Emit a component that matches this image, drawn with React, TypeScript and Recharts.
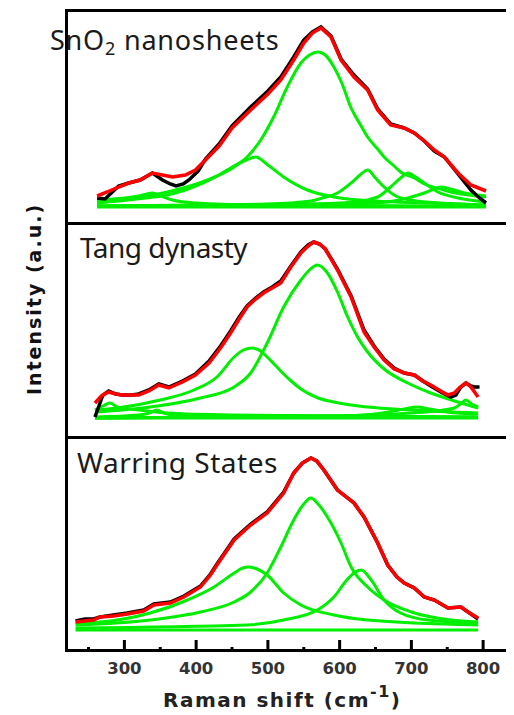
import { LineChart, Line, XAxis, YAxis } from 'recharts';

type Pt = [number, number];

// [Raman shift (cm-1), intensity (a.u.)]

// SnO2 nanosheets
const nanoExp: Pt[] = [[262, 25], [273, 24], [292, 37], [306, 40], [322, 43], [339, 50], [353, 43], [364, 39], [372, 37], [382, 39], [390, 43], [403, 52], [413, 64], [432, 79], [450, 97], [476, 116], [500, 132], [518, 146], [536, 166], [550, 183], [562, 191], [574, 196], [588, 187], [602, 164], [620, 148], [639, 134], [653, 114], [671, 99], [690, 95], [704, 90], [718, 82], [732, 72], [746, 66], [765, 49], [783, 33], [795, 25], [804, 20]];
const nanoFit: Pt[] = [[262, 27], [276, 31], [292, 36], [306, 40], [322, 43], [339, 50], [353, 48], [367, 46], [385, 48], [399, 53], [413, 63], [432, 77], [450, 95], [476, 113], [500, 129], [518, 143], [536, 163], [550, 180], [562, 190], [574, 195], [588, 186], [602, 163], [620, 146], [639, 133], [653, 113], [671, 98], [690, 95], [704, 90], [718, 82], [732, 73], [746, 66], [765, 50], [783, 38], [804, 32]];
const nanoPeakA: Pt[] = [[262, 22], [300, 24], [360, 31], [416, 43], [453, 56], [471, 66], [490, 83], [508, 106], [527, 136], [546, 160], [558, 168], [570, 171], [580, 168], [592, 156], [603, 140], [616, 115], [630, 97], [639, 86], [653, 74], [662, 66], [676, 57], [685, 51], [704, 45], [718, 39], [741, 34], [755, 31], [780, 28], [804, 26]];
const nanoPeakB: Pt[] = [[262, 20], [330, 25], [360, 28], [385, 33], [410, 40], [432, 48], [455, 58], [470, 63], [483, 66], [500, 58], [522, 46], [555, 33], [592, 26], [650, 22], [720, 20], [804, 18]];
const nanoPeakC: Pt[] = [[262, 17], [500, 19], [560, 22], [576, 25], [597, 30], [616, 40], [630, 49], [639, 53], [650, 45], [662, 36], [676, 28], [699, 23], [740, 20], [804, 18]];
const nanoPeakD: Pt[] = [[262, 17], [560, 19], [620, 21], [653, 26], [671, 36], [685, 45], [695, 50], [706, 46], [718, 40], [737, 31], [765, 25], [804, 21]];
const nanoPeakE: Pt[] = [[262, 17], [650, 20], [695, 25], [718, 30], [732, 34], [741, 36], [755, 34], [774, 30], [804, 27]];
const nanoPeakF: Pt[] = [[262, 22], [285, 24], [301, 25], [320, 27], [339, 30], [355, 26], [367, 23], [400, 20], [480, 18], [804, 17]];
const nanoBase: Pt[] = [[262, 16], [804, 16]];

// Tang dynasty
const tangExp: Pt[] = [[259, 20], [265, 32], [270, 42], [278, 46], [288, 43], [297, 42], [310, 42], [320, 43], [334, 47], [348, 53], [362, 50], [381, 56], [399, 63], [418, 76], [435, 92], [448, 106], [460, 120], [471, 131], [483, 139], [494, 145], [506, 150], [518, 156], [532, 171], [546, 185], [556, 192], [564, 195], [572, 193], [580, 188], [597, 168], [616, 141], [634, 107], [648, 91], [662, 78], [676, 69], [690, 64], [704, 62], [716, 56], [727, 51], [741, 45], [755, 40], [762, 42], [768, 49], [776, 54], [783, 51], [788, 50], [795, 50]];
const tangFit: Pt[] = [[259, 34], [268, 41], [278, 45], [288, 43], [297, 42], [310, 42], [320, 42], [334, 46], [348, 52], [362, 49], [381, 55], [399, 62], [418, 74], [435, 90], [448, 104], [460, 118], [471, 130], [483, 138], [494, 144], [506, 149], [518, 154], [532, 170], [546, 184], [556, 191], [564, 195], [572, 193], [580, 188], [597, 167], [616, 140], [634, 105], [648, 90], [662, 77], [676, 68], [690, 64], [704, 62], [716, 56], [727, 52], [741, 46], [751, 42], [760, 44], [768, 50], [776, 54], [783, 50], [793, 40]];
const tangPeakA: Pt[] = [[259, 25], [336, 30], [406, 39], [453, 50], [476, 64], [499, 94], [522, 130], [546, 157], [558, 167], [569, 172], [582, 165], [597, 145], [610, 122], [625, 100], [639, 85], [662, 68], [695, 54], [727, 44], [765, 35], [793, 29]];
const tangPeakB: Pt[] = [[259, 27], [290, 29], [350, 37], [397, 47], [429, 60], [453, 80], [466, 87], [478, 89], [490, 86], [499, 80], [510, 72], [522, 63], [534, 55], [546, 48], [570, 39], [592, 35], [639, 30], [700, 27], [793, 24]];
const tangPeakC: Pt[] = [[259, 27], [270, 31], [280, 34], [290, 30], [297, 29], [320, 27], [360, 24], [450, 22], [793, 20]];
const tangPeakD: Pt[] = [[259, 20], [320, 22], [335, 24], [345, 27], [355, 24], [370, 22], [450, 21], [793, 20]];
const tangPeakE: Pt[] = [[259, 19], [600, 21], [700, 24], [745, 27], [760, 29], [770, 34], [776, 37], [784, 33], [793, 30]];
const tangPeakF: Pt[] = [[259, 19], [600, 21], [660, 24], [690, 28], [708, 30], [725, 28], [750, 25], [793, 23]];
const tangBase: Pt[] = [[259, 19], [793, 19]];

// Warring States
const warExp: Pt[] = [[232, 29], [245, 31], [257, 31], [266, 33], [285, 35], [304, 37], [327, 40], [341, 46], [364, 48], [383, 54], [406, 64], [420, 76], [429, 86], [453, 111], [476, 126], [499, 138], [522, 158], [536, 177], [548, 187], [560, 192], [568, 189], [578, 180], [597, 160], [620, 147], [634, 133], [653, 107], [667, 85], [680, 73], [690, 67], [704, 62], [718, 53], [732, 50], [751, 42], [769, 43], [779, 38], [793, 31]];
const warFit: Pt[] = [[232, 28], [257, 30], [266, 33], [285, 34], [304, 36], [327, 39], [341, 45], [364, 47], [383, 53], [406, 63], [420, 75], [429, 85], [453, 110], [476, 125], [499, 137], [522, 157], [536, 177], [548, 187], [560, 192], [568, 189], [578, 180], [597, 160], [620, 147], [634, 133], [653, 107], [667, 85], [680, 73], [690, 67], [704, 62], [718, 53], [732, 50], [751, 42], [769, 43], [779, 38], [793, 32]];
const warPeakA: Pt[] = [[232, 25], [336, 30], [406, 38], [453, 48], [476, 58], [499, 77], [518, 103], [536, 130], [550, 146], [560, 152], [570, 146], [583, 133], [602, 107], [616, 83], [639, 63], [662, 50], [700, 38], [755, 30], [793, 28]];
const warPeakB: Pt[] = [[232, 27], [266, 28], [336, 37], [388, 50], [425, 63], [453, 77], [465, 82], [474, 83], [485, 81], [499, 75], [522, 57], [546, 45], [592, 35], [639, 30], [793, 25]];
const warPeakC: Pt[] = [[232, 22], [471, 25], [522, 30], [569, 40], [592, 53], [610, 70], [622, 78], [630, 80], [644, 70], [662, 50], [685, 37], [723, 30], [793, 27]];
const warBase: Pt[] = [[232, 20], [793, 20]];

const sampleNames = ['SnO₂ nanosheets', 'Tang dynasty', 'Warring States'];
const xTicks = [250, 300, 350, 400, 450, 500, 550, 600, 650, 700, 750, 800];
const xDomain = [220, 850];

const RED = '#ff0000';
const GREEN = '#00ee00';
const PLOT_LEFT = 58.7;
const PLOT_W = 452;
const AXIS_H = 60;

const rows = (pts: Pt[]) => pts.map(([x, y]) => ({ x, y }));

const panels = [
  { top: 2, height: 213, exp: nanoExp, fit: nanoFit, peaks: [nanoBase, nanoPeakF, nanoPeakE, nanoPeakD, nanoPeakC, nanoPeakB, nanoPeakA] },
  { top: 215, height: 214, exp: tangExp, fit: tangFit, peaks: [tangBase, tangPeakF, tangPeakE, tangPeakD, tangPeakC, tangPeakB, tangPeakA] },
  { top: 429, height: 213, exp: warExp, fit: warFit, peaks: [warBase, warPeakC, warPeakB, warPeakA] },
];

const RamanTick = (props: any) => {
  const { x, y, payload } = props;
  const major = payload.value % 100 === 0;
  return (
    <g>
      <line x1={x} x2={x} y1={y} y2={y - (major ? 10 : 3)} stroke="#000" strokeWidth={3} />
      {major && (
        <text x={x} y={y + 24} textAnchor="middle" fill="#333" fontSize={16.5} fontWeight="bold" fontFamily="DejaVu Sans">
          {payload.value}
        </text>
      )}
    </g>
  );
};

export default function App() {
  return (
    <div style={{ position: 'relative', width: 506, height: 707, overflow: 'hidden', background: '#fff' }}>
      {panels.map((p, i) => {
        const last = i === panels.length - 1;
        return (
          <div key={i} style={{ position: 'absolute', left: PLOT_LEFT, top: p.top }}>
            <LineChart width={PLOT_W} height={p.height + (last ? AXIS_H : 0)} margin={{ top: 0, right: 0, bottom: 0, left: 0 }}>
              <XAxis
                dataKey="x"
                type="number"
                domain={xDomain}
                ticks={xTicks}
                interval={0}
                hide={!last}
                height={AXIS_H}
                axisLine={false}
                tickLine={false}
                tickSize={0}
                tickMargin={0}
                tick={<RamanTick />}
                allowDataOverflow
              />
              <YAxis type="number" domain={[0, p.height]} hide allowDataOverflow />
              {p.peaks.map((pk, j) => (
                <Line key={`g${j}`} data={rows(pk)} dataKey="y" type="monotone" stroke={GREEN} strokeWidth={3} dot={false} isAnimationActive={false} />
              ))}
              <Line data={rows(p.exp)} dataKey="y" type="linear" stroke="#000" strokeWidth={3.5} dot={false} isAnimationActive={false} />
              <Line data={rows(p.fit)} dataKey="y" type="linear" stroke={RED} strokeWidth={3.5} dot={false} isAnimationActive={false} />
            </LineChart>
          </div>
        );
      })}

      {/* frame */}
      <div style={{ position: 'absolute', left: 57, top: 0.5, width: 3, height: 643, background: '#000' }} />
      {[0.5, 213.5, 427.5, 640.5].map((t) => (
        <div key={t} style={{ position: 'absolute', left: 57, top: t, width: 460, height: 3, background: '#000' }} />
      ))}

      <svg width={506} height={707} style={{ position: 'absolute', left: 0, top: 0, pointerEvents: 'none' }}>
        <text x={42} y={42} fontSize={27} letterSpacing={0.8} fontFamily="Noto Sans" fill="#1a1a1a">
          SnO<tspan fontSize={18} dy={5}>2</tspan>
          <tspan dy={-5}> nanosheets</tspan>
        </text>
        <text x={72} y={250} fontSize={28} letterSpacing={-0.5} fontFamily="Noto Sans" fill="#1a1a1a">
          {sampleNames[1]}
        </text>
        <text x={69} y={465} fontSize={28} letterSpacing={0.5} fontFamily="Noto Sans" fill="#1a1a1a">
          {sampleNames[2]}
        </text>
        <text
          transform="translate(33,291) rotate(-90)"
          textAnchor="middle"
          fontSize={19}
          fontWeight="bold"
          letterSpacing={2}
          fontFamily="DejaVu Sans"
          fill="#111"
        >
          Intensity (a.u.)
        </text>
        <text x={155} y={699} fontSize={20} fontWeight="bold" letterSpacing={1.5} fontFamily="DejaVu Sans" fill="#222">
          Raman shift  (cm<tspan fontSize={16} dy={-10}>-1</tspan>
          <tspan dy={10}>)</tspan>
        </text>
      </svg>
    </div>
  );
}
